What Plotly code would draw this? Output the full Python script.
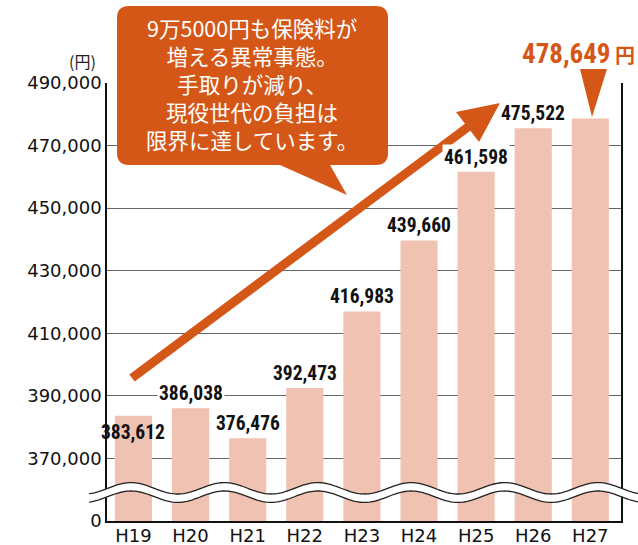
import math
import plotly.graph_objects as go

# ---- data ----
categories = ["H19", "H20", "H21", "H22", "H23", "H24", "H25", "H26", "H27"]
premiums = [383612, 386038, 376476, 392473, 416983, 439660, 461598, 475522, 478649]
tick_values = [350000, 370000, 390000, 410000, 430000, 450000, 470000, 490000]
tick_labels = ["0", "370,000", "390,000", "410,000", "430,000", "450,000", "470,000", "490,000"]
callout_lines = ["9万5000円も保険料が", "増える異常事態。", "手取りが減り、", "現役世代の負担は", "限界に達しています。"]
unit_label = "(円)"

ORANGE = "#D45718"
BAR = "#F0C2B2"
W, H = 638, 545
ML, MR, MT, MB = 107, 17, 83, 24
PW, PH = W - ML - MR, H - MT - MB


def px(x):
    return (x - ML) / PW


def py(y):
    return (H - MB - y) / PH


def path(points, close=True):
    s = "M " + " L ".join(f"{px(x):.5f},{py(y):.5f}" for x, y in points)
    return s + (" Z" if close else "")


fig = go.Figure()
fig.add_trace(go.Bar(x=categories, y=premiums, marker=dict(color=BAR, line=dict(width=0)),
                     width=0.65, hoverinfo="x+y"))

label_font = dict(family="Liberation Sans Narrow, Roboto Condensed, DejaVu Sans Condensed, sans-serif",
                  size=19.5, color="#111", weight="bold")
annotations = []
for i, (c, v) in enumerate(zip(categories, premiums)):
    if c == "H27":
        continue
    if i == 0:
        annotations.append(dict(x=c, y=v, text=f"{v:,}", showarrow=False, yanchor="top", yshift=-3,
                                font=label_font))
    else:
        annotations.append(dict(x=c, y=v, text=f"{v:,}", showarrow=False, yanchor="bottom", yshift=1,
                                font=label_font, bgcolor="white", borderpad=1))

# highlighted last value
last = premiums[-1]
annotations.append(dict(xref="paper", yref="paper", x=px(637), y=py(54), xanchor="right", yanchor="middle",
                        text=f"{last:,}<span style='font-size:20px'> 円</span>", showarrow=False,
                        font=dict(family="Liberation Sans Narrow, Roboto Condensed, Noto Sans CJK JP, sans-serif",
                                  size=27, color=ORANGE, weight="bold")))
# unit
annotations.append(dict(xref="paper", yref="paper", x=px(98), y=py(61), xanchor="right", yanchor="middle",
                        text=unit_label, showarrow=False,
                        font=dict(family="Noto Sans CJK JP", size=16, color="#222")))
# callout text
annotations.append(dict(xref="paper", yref="paper", x=px(252), y=py(83), xanchor="center", yanchor="middle",
                        text="<br>".join(callout_lines), showarrow=False, align="center",
                        font=dict(family="Noto Sans CJK JP", size=21.5, color="white")))

shapes = []
# callout box with tail
l, r, t, b, rad = 117, 388, 6, 165, 12
box = (f"M {px(l+rad)},{py(t)} L {px(r-rad)},{py(t)} Q {px(r)},{py(t)} {px(r)},{py(t+rad)} "
       f"L {px(r)},{py(b-rad)} Q {px(r)},{py(b)} {px(r-rad)},{py(b)} "
       f"L {px(330)},{py(b)} L {px(347)},{py(195)} L {px(280)},{py(b)} "
       f"L {px(l+rad)},{py(b)} Q {px(l)},{py(b)} {px(l)},{py(b-rad)} "
       f"L {px(l)},{py(t+rad)} Q {px(l)},{py(t)} {px(l+rad)},{py(t)} Z")
shapes.append(dict(type="path", xref="paper", yref="paper", path=box, fillcolor=ORANGE,
                   line=dict(width=0), layer="above"))

# trend arrow
shapes.append(dict(type="line", xref="paper", yref="paper", x0=px(132), y0=py(378), x1=px(472), y1=py(124),
                   line=dict(color=ORANGE, width=9), layer="above"))
shapes.append(dict(type="path", xref="paper", yref="paper",
                   path=path([(500, 103), (456, 112), (479, 142)]), fillcolor=ORANGE,
                   line=dict(width=0), layer="above"))

# pointer triangle for last value
shapes.append(dict(type="path", xref="paper", yref="paper",
                   path=path([(580, 69), (607, 69), (592, 117)]), fillcolor=ORANGE,
                   line=dict(width=0), layer="above"))

# axis break wave
period, amp, peak_x = 93.4, 5.7, 131
xs = [89 + k * 2 for k in range(int((W + 2 - 89) / 2) + 1)]
upper = [(x, 488.3 - amp * math.cos(2 * math.pi * (x - peak_x) / period)) for x in xs]
lower = [(x, y + 8.4) for x, y in upper]
shapes.append(dict(type="path", xref="paper", yref="paper", path=path(upper + lower[::-1]),
                   fillcolor="white", line=dict(width=0), layer="above"))
for curve in (upper, lower):
    shapes.append(dict(type="path", xref="paper", yref="paper", path=path(curve, close=False),
                       line=dict(color="#222", width=1.3), layer="above"))

fig.update_layout(
    width=W, height=H,
    margin=dict(l=ML, r=MR, t=MT, b=MB, autoexpand=False),
    plot_bgcolor="white", paper_bgcolor="white",
    showlegend=False, bargap=0.35,
    annotations=annotations, shapes=shapes,
    font=dict(family="DejaVu Sans", size=18, color="#111"),
)
fig.update_xaxes(range=[-0.463, 8.537], showline=True, linecolor="#111", linewidth=1.5, showgrid=False,
                 ticks="", ticklabelstandoff=-2,
                 tickfont=dict(family="DejaVu Sans", size=18, color="#111"), automargin=False)
fig.update_yaxes(range=[350000, 490000], tickvals=tick_values, ticktext=tick_labels,
                 showline=True, mirror=True, linecolor="#111", linewidth=1.5,
                 showgrid=True, gridcolor="#666", gridwidth=1, ticks="", zeroline=False,
                 tickfont=dict(family="DejaVu Sans", size=18, color="#111"), automargin=False)

fig.write_html("out.html", config={"displayModeBar": False},
               post_script="document.body.style.margin='0';document.body.style.overflow='hidden';")
